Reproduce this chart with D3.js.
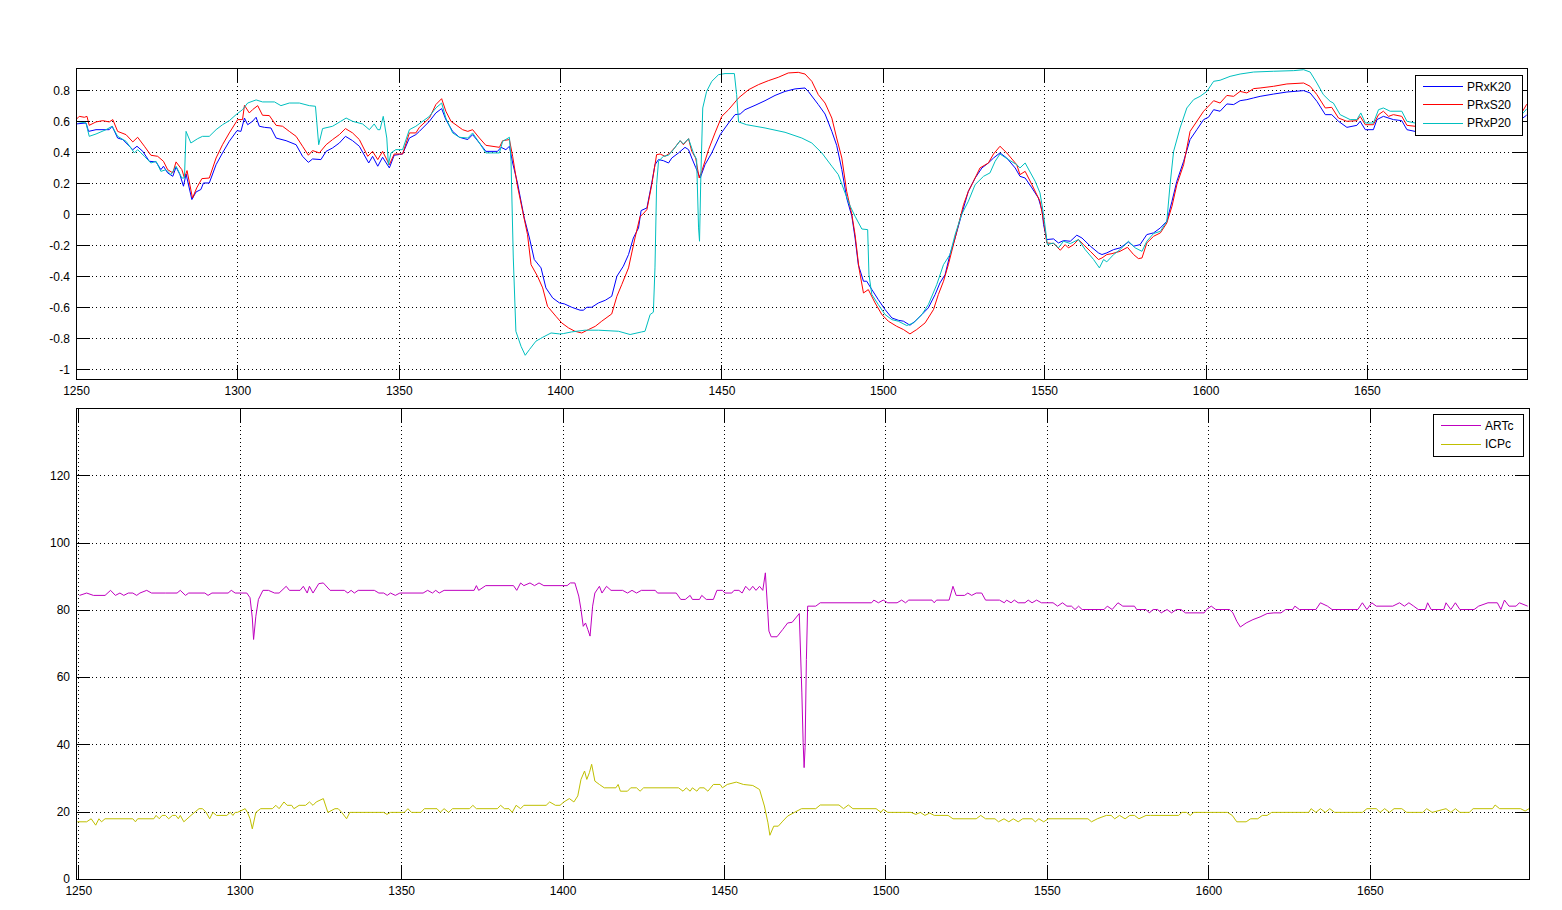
<!DOCTYPE html>
<html><head><meta charset="utf-8">
<script src="https://cdn.jsdelivr.net/npm/d3@7"></script>
<style>
html,body{margin:0;padding:0;background:#fff;}
text{font-family:"Liberation Sans",Arial,sans-serif;font-size:12px;fill:#000;}
</style></head>
<body>
<script>
// ---------- DATA ----------
const topSeriesNames = ["PRxK20", "PRxS20", "PRxP20"];
const bottomSeriesNames = ["ARTc", "ICPc"];
const topXTicks = [1250,1300,1350,1400,1450,1500,1550,1600,1650];
const topYTicks = [-1,-0.8,-0.6,-0.4,-0.2,0,0.2,0.4,0.6,0.8];
const bottomXTicks = [1250,1300,1350,1400,1450,1500,1550,1600,1650];
const bottomYTicks = [0,20,40,60,80,100,120];
const topXDomain = [1250, 1699.6];
const topYDomain = [-1.063, 0.944];
const bottomXDomain = [1249.3, 1699.3];
const bottomYDomain = [0, 140];

const prxK20 = [[1250,0.583],[1253.1,0.589],[1253.9,0.535],[1256.2,0.546],[1260.3,0.546],[1261.2,0.568],[1262.9,0.492],[1264.5,0.482],[1267.6,0.417],[1268.9,0.439],[1270.7,0.406],[1272.7,0.342],[1274.8,0.338],[1276.3,0.288],[1277.1,0.31],[1278.4,0.267],[1280.0,0.245],[1281.0,0.305],[1282.2,0.256],[1283.3,0.181],[1284.1,0.26],[1285.9,0.095],[1287.2,0.144],[1288.7,0.16],[1289.5,0.202],[1291.3,0.202],[1293.4,0.32],[1295.4,0.396],[1297.5,0.471],[1299.9,0.54],[1301.1,0.535],[1302.2,0.621],[1303.2,0.578],[1304.7,0.6],[1305.8,0.626],[1306.8,0.568],[1308.4,0.561],[1310.4,0.557],[1312.0,0.492],[1315.1,0.475],[1318.2,0.449],[1320.2,0.374],[1322.0,0.335],[1323.3,0.357],[1325.9,0.353],[1327.5,0.406],[1329.5,0.428],[1331.6,0.46],[1333.5,0.503],[1335.7,0.475],[1337.8,0.439],[1340.7,0.331],[1341.9,0.374],[1343.5,0.31],[1345.0,0.368],[1347.1,0.299],[1348.6,0.381],[1351.2,0.389],[1353.3,0.492],[1355.3,0.514],[1356.4,0.535],[1359.5,0.6],[1361.5,0.654],[1363.3,0.682],[1364.6,0.611],[1366.7,0.535],[1368.8,0.497],[1371.4,0.482],[1372.9,0.514],[1375.0,0.46],[1377.0,0.406],[1380.6,0.406],[1381.7,0.432],[1383.2,0.417],[1384.3,0.439],[1385.3,0.331],[1386.8,0.202],[1388.9,-0.024],[1390.5,-0.153],[1392.0,-0.292],[1394.1,-0.346],[1395.6,-0.475],[1397.7,-0.54],[1399.8,-0.572],[1401.3,-0.578],[1403.6,-0.6],[1406.2,-0.619],[1407.2,-0.619],[1408.3,-0.6],[1409.8,-0.6],[1411.9,-0.572],[1414.0,-0.555],[1416.0,-0.529],[1417.6,-0.4],[1419.6,-0.335],[1421.2,-0.26],[1422.7,-0.153],[1424.3,-0.088],[1425.1,0.024],[1426.9,0.041],[1428.4,0.202],[1429.4,0.32],[1430.5,0.353],[1432.0,0.346],[1433.6,0.331],[1434.6,0.363],[1436.7,0.396],[1438.7,0.432],[1439.8,0.417],[1440.8,0.363],[1442.0,0.303],[1443.4,0.234],[1444.9,0.32],[1447.0,0.396],[1449.6,0.514],[1452.2,0.589],[1454.2,0.643],[1455.8,0.647],[1457.3,0.675],[1460.4,0.703],[1463.5,0.733],[1466.6,0.767],[1469.7,0.793],[1472.8,0.809],[1475.9,0.815],[1476.9,0.793],[1480.0,0.708],[1482.1,0.647],[1484.2,0.535],[1485.7,0.445],[1487.3,0.288],[1488.8,0.105],[1490.4,-0.013],[1491.4,-0.153],[1492.4,-0.325],[1494.0,-0.432],[1495.0,-0.432],[1496.6,-0.486],[1498.6,-0.551],[1500.7,-0.615],[1502.8,-0.669],[1504.8,-0.684],[1506.4,-0.69],[1508.4,-0.716],[1510.0,-0.69],[1512.1,-0.647],[1514.1,-0.604],[1516.2,-0.518],[1517.7,-0.443],[1519.3,-0.389],[1520.8,-0.26],[1522.4,-0.153],[1524.4,-0.002],[1526.5,0.148],[1528.6,0.234],[1530.7,0.299],[1532.7,0.331],[1534.3,0.363],[1536.3,0.396],[1538.4,0.363],[1541.0,0.299],[1542.5,0.245],[1544.1,0.234],[1546.2,0.17],[1548.2,0.105],[1549.4,0.019],[1549.8,-0.067],[1550.8,-0.163],[1552.9,-0.159],[1554.4,-0.185],[1556.0,-0.17],[1558.1,-0.174],[1560.1,-0.135],[1561.7,-0.153],[1564.3,-0.206],[1566.8,-0.249],[1567.9,-0.26],[1569.4,-0.249],[1571.5,-0.228],[1573.5,-0.217],[1576.1,-0.179],[1577.7,-0.206],[1579.7,-0.196],[1581.8,-0.131],[1583.9,-0.12],[1586.0,-0.088],[1588.0,-0.045],[1589.6,0.084],[1591.1,0.213],[1593.2,0.342],[1595.2,0.482],[1597.3,0.546],[1599.4,0.611],[1600.9,0.626],[1602.5,0.675],[1604.5,0.665],[1606.6,0.712],[1608.7,0.708],[1610.7,0.733],[1612.8,0.74],[1614.9,0.751],[1616.9,0.761],[1621.1,0.776],[1625.2,0.789],[1630.4,0.798],[1632.4,0.783],[1634.5,0.729],[1637.1,0.643],[1639.1,0.643],[1641.2,0.6],[1643.8,0.561],[1646.9,0.574],[1647.9,0.6],[1649.5,0.546],[1652.0,0.546],[1653.1,0.611],[1655.1,0.632],[1658.2,0.611],[1660.8,0.604],[1662.4,0.546],[1664.9,0.535],[1670,0.56],[1680,0.6],[1690,0.6],[1697,0.6],[1699.5,0.64]];

const prxS20 = [[1250,0.611],[1251.0,0.632],[1252.6,0.626],[1253.4,0.632],[1254.1,0.574],[1256.2,0.596],[1258.3,0.604],[1260.3,0.596],[1261.4,0.611],[1262.9,0.535],[1265.5,0.514],[1267.6,0.467],[1269.1,0.497],[1271.2,0.439],[1273.2,0.381],[1275.3,0.374],[1277.1,0.342],[1278.4,0.288],[1280.0,0.267],[1281.0,0.338],[1282.8,0.288],[1283.6,0.234],[1284.4,0.282],[1286.1,0.105],[1287.4,0.17],[1289.0,0.23],[1291.3,0.234],[1293.4,0.363],[1295.4,0.449],[1297.5,0.525],[1300.1,0.611],[1301.6,0.611],[1302.2,0.703],[1303.7,0.654],[1304.7,0.675],[1306.3,0.701],[1307.8,0.639],[1309.9,0.637],[1312.0,0.574],[1314.0,0.568],[1316.1,0.535],[1318.2,0.503],[1320.2,0.439],[1322.0,0.381],[1323.3,0.411],[1325.4,0.396],[1327.5,0.449],[1329.5,0.482],[1331.6,0.514],[1333.5,0.553],[1335.7,0.525],[1337.8,0.482],[1340.4,0.374],[1341.9,0.406],[1343.5,0.353],[1345.0,0.406],[1347.1,0.32],[1348.6,0.389],[1351.2,0.389],[1353.3,0.525],[1355.3,0.525],[1356.4,0.561],[1359.5,0.621],[1361.5,0.708],[1363.3,0.746],[1364.6,0.665],[1366.2,0.6],[1369.8,0.546],[1371.4,0.535],[1372.9,0.546],[1375.0,0.492],[1377.0,0.445],[1381.2,0.432],[1382.2,0.475],[1384.3,0.482],[1385.3,0.374],[1386.8,0.181],[1388.4,0.019],[1389.9,-0.131],[1391.0,-0.325],[1393.0,-0.4],[1394.6,-0.475],[1396.1,-0.594],[1398.7,-0.658],[1400.5,-0.701],[1402.6,-0.733],[1404.6,-0.755],[1406.7,-0.766],[1408.8,-0.744],[1410.9,-0.723],[1412.9,-0.69],[1416.0,-0.643],[1417.6,-0.529],[1419.1,-0.454],[1421.2,-0.346],[1423.2,-0.153],[1424.8,-0.013],[1425.5,-0.002],[1426.9,0.03],[1428.4,0.191],[1429.9,0.385],[1431.0,0.389],[1432.5,0.374],[1434.1,0.396],[1435.6,0.432],[1437.2,0.475],[1438.2,0.449],[1439.8,0.488],[1440.8,0.406],[1442.0,0.363],[1443.1,0.234],[1443.9,0.277],[1446.0,0.417],[1448.0,0.525],[1450.1,0.632],[1452.2,0.675],[1455.3,0.751],[1458.4,0.804],[1461.5,0.837],[1464.5,0.862],[1467.6,0.884],[1470.7,0.912],[1473.8,0.916],[1475.9,0.905],[1478.0,0.858],[1480.0,0.772],[1482.1,0.718],[1484.2,0.621],[1485.7,0.492],[1487.3,0.363],[1488.8,0.148],[1490.4,-0.002],[1491.4,-0.131],[1492.6,-0.346],[1494.0,-0.508],[1495.5,-0.486],[1497.6,-0.572],[1499.7,-0.647],[1501.7,-0.69],[1504.3,-0.723],[1506.4,-0.744],[1508.4,-0.772],[1510.5,-0.744],[1513.1,-0.701],[1515.7,-0.615],[1517.2,-0.518],[1518.8,-0.432],[1520.3,-0.325],[1522.4,-0.153],[1525.0,0.062],[1526.5,0.148],[1528.1,0.213],[1530.1,0.299],[1532.7,0.331],[1534.3,0.389],[1536.3,0.439],[1538.4,0.396],[1541.5,0.32],[1542.5,0.256],[1544.1,0.277],[1546.2,0.191],[1548.7,0.084],[1550.0,-0.067],[1550.8,-0.185],[1552.9,-0.189],[1555.0,-0.232],[1556.5,-0.196],[1557.5,-0.217],[1559.1,-0.196],[1560.6,-0.163],[1562.2,-0.196],[1564.3,-0.239],[1566.8,-0.292],[1567.9,-0.282],[1569.4,-0.26],[1571.0,-0.254],[1573.5,-0.239],[1575.8,-0.213],[1577.7,-0.26],[1579.2,-0.286],[1580.3,-0.282],[1581.8,-0.185],[1583.9,-0.142],[1586.0,-0.12],[1588.0,-0.056],[1589.6,0.052],[1591.1,0.191],[1593.2,0.32],[1595.2,0.535],[1597.3,0.6],[1599.4,0.665],[1601.4,0.708],[1602.5,0.733],[1604.5,0.718],[1606.6,0.767],[1608.7,0.761],[1610.7,0.793],[1612.8,0.783],[1614.9,0.811],[1616.9,0.815],[1621.1,0.826],[1625.2,0.841],[1630.4,0.847],[1632.4,0.826],[1634.5,0.772],[1637.1,0.686],[1639.1,0.69],[1641.2,0.621],[1643.8,0.6],[1646.9,0.604],[1647.9,0.632],[1649.5,0.578],[1652.0,0.578],[1653.6,0.643],[1655.1,0.665],[1656.7,0.632],[1658.2,0.643],[1660.8,0.632],[1662.4,0.574],[1664.9,0.568],[1672,0.6],[1682,0.63],[1692,0.63],[1697,0.62],[1699.5,0.71]];

const prxP20 = [[1250,0.6],[1253.1,0.589],[1254.1,0.503],[1256.2,0.518],[1259.3,0.546],[1261.2,0.568],[1262.9,0.503],[1265.5,0.471],[1268.1,0.396],[1269.1,0.417],[1271.2,0.374],[1273.2,0.331],[1274.8,0.342],[1276.3,0.277],[1277.9,0.288],[1279.4,0.256],[1281.0,0.31],[1282.8,0.234],[1283.6,0.234],[1284.1,0.535],[1285.6,0.46],[1287.7,0.488],[1289.2,0.503],[1291.3,0.503],[1293.4,0.546],[1295.4,0.578],[1297.5,0.604],[1299.6,0.643],[1301.6,0.675],[1303.2,0.718],[1305.8,0.738],[1307.8,0.725],[1311.5,0.725],[1313.5,0.701],[1316.1,0.718],[1319.2,0.718],[1322.3,0.701],[1324.2,0.697],[1325.2,0.449],[1326.4,0.553],[1329.5,0.568],[1333.7,0.621],[1335.7,0.6],[1338.8,0.583],[1340.9,0.546],[1342.4,0.583],[1343.5,0.546],[1344.2,0.546],[1345.2,0.632],[1346.3,0.492],[1346.8,0.32],[1347.6,0.396],[1349.1,0.417],[1351.2,0.417],[1353.3,0.546],[1355.3,0.568],[1359.5,0.632],[1361.5,0.686],[1363.3,0.718],[1364.6,0.621],[1366.7,0.525],[1368.8,0.497],[1371.4,0.492],[1372.9,0.525],[1375.0,0.46],[1377.0,0.396],[1381.2,0.396],[1382.2,0.471],[1384.3,0.497],[1384.8,0.342],[1385.5,-0.282],[1386.3,-0.755],[1387.9,-0.852],[1389.2,-0.91],[1390.5,-0.873],[1392.5,-0.819],[1394.6,-0.794],[1397.2,-0.766],[1399.8,-0.772],[1401.0,-0.77],[1403.6,-0.759],[1407.7,-0.748],[1411.9,-0.748],[1418.1,-0.755],[1421.7,-0.776],[1425.3,-0.759],[1426.3,-0.755],[1427.9,-0.647],[1428.9,-0.632],[1429.4,-0.346],[1429.9,0.191],[1430.5,0.342],[1432.0,0.374],[1433.6,0.381],[1435.1,0.417],[1437.2,0.475],[1438.2,0.454],[1439.8,0.488],[1441.3,0.396],[1442.3,0.353],[1442.9,-0.088],[1443.2,-0.174],[1443.6,0.234],[1444.2,0.686],[1445.4,0.793],[1447.0,0.858],[1449.1,0.901],[1451.1,0.908],[1454.0,0.908],[1454.7,0.772],[1455.3,0.596],[1457.8,0.578],[1463.5,0.557],[1469.7,0.529],[1474.9,0.492],[1478.0,0.46],[1481.1,0.396],[1484.2,0.31],[1486.2,0.256],[1488.3,0.138],[1489.9,0.052],[1491.4,-0.013],[1493.5,-0.095],[1495.3,-0.099],[1495.7,-0.389],[1496.6,-0.518],[1498.6,-0.583],[1500.7,-0.647],[1502.8,-0.68],[1504.8,-0.69],[1507.4,-0.718],[1509.5,-0.701],[1512.1,-0.647],[1514.1,-0.583],[1516.7,-0.454],[1518.8,-0.325],[1520.8,-0.26],[1522.4,-0.131],[1524.4,-0.002],[1526.5,0.084],[1528.6,0.191],[1531.2,0.245],[1533.2,0.267],[1534.8,0.342],[1536.3,0.389],[1538.9,0.353],[1541.5,0.32],[1542.5,0.299],[1544.1,0.331],[1547.2,0.213],[1548.7,0.138],[1549.8,-0.002],[1551.0,-0.196],[1552.9,-0.185],[1554.4,-0.217],[1556.0,-0.174],[1558.1,-0.189],[1560.6,-0.163],[1562.7,-0.228],[1565.3,-0.292],[1567.1,-0.346],[1568.4,-0.292],[1569.4,-0.307],[1571.5,-0.26],[1573.5,-0.228],[1576.1,-0.174],[1578.2,-0.217],[1580.3,-0.239],[1581.8,-0.174],[1583.9,-0.124],[1586.0,-0.11],[1588.0,-0.045],[1589.0,0.191],[1590.1,0.406],[1592.1,0.557],[1594.2,0.686],[1596.3,0.74],[1598.3,0.761],[1600.4,0.793],[1602.5,0.858],[1604.5,0.865],[1607.6,0.89],[1610.7,0.905],[1614.9,0.918],[1621.1,0.923],[1627.3,0.927],[1630.4,0.933],[1632.4,0.918],[1634.5,0.847],[1636.5,0.772],[1638.6,0.729],[1639.6,0.718],[1641.7,0.643],[1644.8,0.611],[1646.9,0.611],[1648.1,0.654],[1649.5,0.589],[1652.0,0.589],[1653.6,0.675],[1655.1,0.686],[1657.2,0.665],[1660.8,0.665],[1662.4,0.6],[1664.9,0.589],[1672,0.6],[1682,0.64],[1692,0.64],[1697,0.62],[1699.5,0.68]];

const artc = [[1250.4,84.3],[1252.6,85.0],[1254.7,84.3],[1258.3,84.3],[1260.0,85.8],[1261.5,84.3],[1262.9,85.0],[1264.1,84.3],[1265.5,85.0],[1266.9,85.0],[1268.1,84.3],[1269.1,85.0],[1271.2,85.8],[1272.7,85.0],[1277.0,85.0],[1280.6,85.0],[1281.6,85.8],[1283.2,84.3],[1284.2,85.0],[1289.2,85.0],[1290.2,84.3],[1291.4,85.0],[1296.4,85.0],[1297.4,85.8],[1298.6,85.0],[1302.2,85.0],[1303.2,83.6],[1303.9,77.6],[1304.3,71.2],[1305.0,78.1],[1305.8,83.1],[1307.2,85.8],[1308.9,85.8],[1310.8,85.0],[1312.2,85.0],[1314.4,87.0],[1315.4,85.8],[1318.7,85.8],[1319.7,87.0],[1320.9,85.0],[1321.6,87.0],[1322.7,85.0],[1324.5,87.8],[1325.9,88.0],[1328.0,85.8],[1332.4,85.8],[1333.5,85.0],[1334.5,85.8],[1335.5,85.0],[1336.7,85.8],[1341.7,85.8],[1343.1,85.0],[1344.6,85.0],[1345.7,84.3],[1346.7,85.0],[1348.2,84.3],[1349.6,85.0],[1356.8,85.0],[1358.2,85.8],[1359.7,85.0],[1360.7,85.8],[1361.8,85.0],[1363.3,85.8],[1372.6,85.8],[1373.3,87.2],[1374.0,85.8],[1376.2,87.2],[1384.8,87.2],[1385.8,85.8],[1387.0,88.0],[1388.0,87.2],[1389.9,88.0],[1391.3,87.2],[1392.7,88.0],[1394.2,87.2],[1401.4,87.2],[1402.4,88.0],[1403.8,88.0],[1405.0,84.1],[1405.7,80.1],[1406.4,75.1],[1407.1,76.1],[1407.8,74.2],[1408.5,72.2],[1409.3,81.1],[1410.0,85.0],[1411.4,87.0],[1412.2,85.0],[1413.6,87.0],[1415.0,85.8],[1418.6,85.8],[1420.1,85.0],[1421.5,85.8],[1422.9,85.0],[1424.4,85.8],[1428.7,85.8],[1429.4,85.0],[1435.2,85.0],[1436.6,83.1],[1438.0,83.1],[1439.5,84.3],[1440.2,83.1],[1442.4,83.1],[1443.1,84.3],[1444.5,83.1],[1446.7,83.1],[1447.8,85.8],[1449.5,85.8],[1450.3,85.0],[1452.4,85.0],[1453.1,85.8],[1454.6,85.8],[1455.6,85.0],[1456.7,87.0],[1457.9,85.8],[1458.9,87.0],[1459.9,85.8],[1461.0,87.0],[1462.0,85.8],[1462.8,91.0],[1463.5,80.1],[1463.9,73.7],[1464.6,72.0],[1466.4,72.0],[1468.2,74.2],[1469.7,76.1],[1471.1,76.3],[1473.3,78.9],[1474.1,55.3],[1474.5,40.5],[1474.8,33.1],[1475.1,39.0],[1475.5,65.2],[1475.9,81.1],[1478.4,81.1],[1479.8,82.1],[1495.7,82.1],[1496.4,82.9],[1497.8,82.1],[1499.3,82.9],[1500.7,82.1],[1503.6,82.1],[1505.0,82.9],[1506.2,82.1],[1507.2,82.9],[1514.4,82.9],[1515.1,82.1],[1515.8,82.9],[1519.7,82.9],[1520.9,87.0],[1521.9,84.3],[1524.5,84.3],[1525.5,85.0],[1526.7,84.3],[1528.1,85.0],[1529.8,85.0],[1531.0,82.9],[1535.3,82.9],[1536.8,82.1],[1537.5,82.9],[1538.9,82.1],[1539.9,82.9],[1541.1,82.1],[1543.2,82.1],[1544.2,82.9],[1545.4,82.1],[1546.8,82.9],[1548.3,82.1],[1551.9,82.1],[1553.3,81.1],[1554.8,82.1],[1556.2,81.1],[1557.6,81.1],[1558.7,80.1],[1559.8,81.1],[1560.9,80.1],[1567.7,80.1],[1568.7,81.1],[1570.2,80.1],[1572.0,82.1],[1573.5,81.1],[1577.1,81.1],[1577.8,80.1],[1580.7,80.1],[1581.7,79.1],[1582.9,80.1],[1584.3,80.1],[1585.4,79.1],[1587.2,80.1],[1588.6,79.1],[1590.1,80.1],[1591.5,80.1],[1592.9,79.1],[1598.7,79.1],[1599.4,80.1],[1600.9,81.1],[1602.3,80.1],[1606.6,80.1],[1607.6,79.1],[1608.8,76.6],[1609.9,74.9],[1611.7,76.1],[1613.8,77.1],[1616.0,77.9],[1618.2,78.9],[1620.3,79.1],[1622.5,79.1],[1623.9,80.1],[1626.1,80.1],[1626.8,81.1],[1628.2,80.1],[1633.3,80.1],[1634.7,82.1],[1636.9,81.1],[1638.3,80.1],[1646.3,80.1],[1647.7,82.1],[1649.1,80.1],[1650.6,82.1],[1652.0,81.1],[1657.1,81.1],[1659.2,82.1],[1660.7,81.1],[1662.1,82.1],[1663.6,81.1],[1665.0,80.1],[1667.2,80.1],[1667.9,82.1],[1669.0,80.1],[1672.9,80.1],[1673.6,82.1],[1675.1,80.1],[1676.5,82.1],[1677.9,80.1],[1682.3,80.1],[1683.7,81.1],[1686.6,82.1],[1689.5,82.1],[1690.6,80.1],[1691.7,82.9],[1693.1,81.1],[1695.3,81.1],[1696.3,82.1],[1698.9,81.1]];

const icpc = [[1249.7,17.0],[1252.6,17.0],[1254.0,17.9],[1255.4,16.0],[1256.4,17.9],[1257.2,17.0],[1258.3,17.9],[1266.9,17.9],[1267.7,17.0],[1268.4,17.9],[1273.4,17.9],[1274.1,18.9],[1275.1,17.9],[1276.0,18.9],[1277.0,18.9],[1278.0,17.9],[1279.2,18.9],[1280.2,18.9],[1281.0,17.9],[1281.6,18.9],[1282.7,17.0],[1284.9,18.9],[1287.4,20.9],[1288.5,20.9],[1289.6,19.8],[1290.7,17.9],[1291.7,19.8],[1292.8,18.9],[1296.0,18.9],[1297.1,19.8],[1297.9,18.9],[1298.6,19.8],[1299.3,19.8],[1301.7,20.9],[1302.4,19.8],[1303.2,17.9],[1303.9,14.9],[1305.0,19.8],[1306.5,20.9],[1310.1,20.9],[1311.2,21.9],[1312.2,20.9],[1313.7,22.9],[1314.7,21.9],[1316.1,21.9],[1316.8,20.9],[1318.4,21.9],[1320.4,21.9],[1321.6,22.9],[1322.7,21.9],[1323.7,22.9],[1325.9,23.9],[1327.3,19.8],[1329.5,20.9],[1330.5,20.9],[1331.6,19.8],[1333.1,17.9],[1334.1,19.8],[1344.6,19.8],[1345.6,19.2],[1346.7,19.8],[1351.0,19.8],[1352.1,20.9],[1353.2,19.8],[1356.1,19.8],[1357.2,20.9],[1361.1,20.9],[1362.1,19.8],[1363.3,20.9],[1364.7,19.8],[1365.9,20.9],[1371.2,20.9],[1372.2,21.9],[1373.3,20.9],[1379.8,20.9],[1380.8,21.9],[1382.0,20.9],[1383.4,20.9],[1384.4,19.8],[1385.6,21.9],[1387.0,20.9],[1388.0,21.9],[1394.9,21.9],[1396.0,22.9],[1397.8,21.9],[1399.2,21.9],[1400.4,22.9],[1402.1,23.9],[1403.5,22.9],[1404.7,24.7],[1405.7,29.6],[1406.8,32.1],[1407.5,29.6],[1408.3,31.6],[1409.0,34.1],[1410.0,29.1],[1411.4,28.1],[1412.9,27.1],[1416.5,27.1],[1417.2,28.1],[1417.9,26.1],[1420.1,26.1],[1421.1,27.1],[1422.9,27.1],[1424.0,26.1],[1425.1,27.1],[1435.9,27.1],[1437.3,26.1],[1438.3,27.1],[1439.5,26.1],[1440.2,27.1],[1441.6,26.1],[1442.4,27.1],[1443.8,27.1],[1445.0,26.1],[1446.7,28.1],[1448.8,28.1],[1449.5,27.1],[1451.0,28.1],[1453.8,28.8],[1456.0,28.1],[1458.9,27.8],[1461.0,26.6],[1462.5,21.7],[1463.6,16.7],[1464.2,13.0],[1465.4,15.7],[1466.8,15.7],[1468.2,17.2],[1469.7,18.7],[1471.8,19.8],[1474.0,20.9],[1478.4,20.9],[1479.8,22.0],[1485.6,22.0],[1487.0,20.9],[1488.5,22.0],[1489.9,20.9],[1497.1,20.9],[1498.6,19.8],[1499.3,20.7],[1500.7,19.8],[1507.9,19.8],[1509.4,19.2],[1510.8,19.8],[1512.2,18.9],[1513.7,19.6],[1515.1,18.9],[1519.4,18.9],[1520.9,17.9],[1528.1,17.9],[1529.5,18.9],[1531.0,17.9],[1533.9,17.9],[1535.0,17.0],[1536.7,17.9],[1538.2,17.0],[1539.6,17.9],[1541.1,17.0],[1542.5,17.9],[1545.4,17.9],[1546.4,17.0],[1547.5,17.9],[1549.0,17.0],[1550.4,17.9],[1562.7,17.9],[1563.8,17.0],[1565.6,17.9],[1568.4,18.9],[1569.9,18.9],[1571.0,17.9],[1572.5,18.9],[1574.2,17.9],[1575.7,18.9],[1577.1,18.9],[1578.5,17.9],[1580.7,18.9],[1582.1,18.9],[1590.8,18.9],[1591.8,19.8],[1593.2,19.8],[1594.4,18.9],[1595.5,19.8],[1605.9,19.8],[1607.4,18.9],[1608.8,17.0],[1611.7,17.0],[1613.1,17.9],[1615.3,17.9],[1616.7,18.9],[1618.2,18.9],[1619.6,19.8],[1631.1,19.8],[1631.8,20.9],[1633.3,19.8],[1634.7,20.9],[1636.2,19.8],[1637.6,20.9],[1639.1,19.8],[1647.7,19.8],[1649.1,20.9],[1652.0,20.9],[1653.2,19.8],[1654.6,20.9],[1656.1,19.8],[1657.5,20.9],[1659.9,20.9],[1661.4,19.8],[1666.4,19.8],[1667.6,20.9],[1669.3,19.8],[1673.6,20.9],[1675.1,19.8],[1676.5,20.9],[1677.9,19.8],[1680.8,19.8],[1682.0,20.9],[1688.0,20.9],[1688.8,22.0],[1690.2,20.9],[1696.7,20.9],[1698.1,20.2],[1699.3,20.9]];

// ---------- STYLE / LAYOUT ----------
const colors = {PRxK20:"#0000ff", PRxS20:"#ff0000", PRxP20:"#00bfbf", ARTc:"#bf00bf", ICPc:"#bfbf00"};
const W = 1562, H = 910, TICK = 14;

const svg = d3.select("body").append("svg").attr("width", W).attr("height", H);
svg.append("rect").attr("width", W).attr("height", H).attr("fill", "#fff");

function fmt(d){ return String(+(+d).toFixed(1)); }

function panel(cfg){
  const {x0, x1, y0, y1, xDomain, yDomain, xTicks, yTicks, series, legend, id} = cfg;
  const x = d3.scaleLinear().domain(xDomain).range([x0, x1]);
  const y = d3.scaleLinear().domain(yDomain).range([y1, y0]);
  const g = svg.append("g");
  const w = x1 - x0, h = y1 - y0;

  g.append("clipPath").attr("id", "clip" + id).append("rect")
    .attr("x", x0).attr("y", y0).attr("width", w).attr("height", h);

  // grid
  const gxg = g.append("g").attr("transform", `translate(0,${y1})`)
    .call(d3.axisBottom(x).tickValues(xTicks).tickSize(-h).tickFormat(""));
  gxg.select(".domain").remove();
  gxg.selectAll("line").attr("stroke", "#000").attr("stroke-dasharray", "1,3").attr("shape-rendering", "crispEdges");
  const gyg = g.append("g").attr("transform", `translate(${x0},0)`)
    .call(d3.axisLeft(y).tickValues(yTicks).tickSize(-w).tickFormat(""));
  gyg.select(".domain").remove();
  gyg.selectAll("line").attr("stroke", "#000").attr("stroke-dasharray", "1,3").attr("shape-rendering", "crispEdges");

  // data lines
  const line = d3.line().x(d => x(d[0])).y(d => y(d[1]));
  const lg = g.append("g").attr("clip-path", `url(#clip${id})`);
  series.forEach(s => {
    lg.append("path").datum(s.data).attr("d", line)
      .attr("fill", "none").attr("stroke", colors[s.name]).attr("stroke-width", 1)
      .attr("stroke-linejoin", "round");
  });

  // axes with inward ticks
  const ax = [
    [d3.axisBottom(x).tickValues(xTicks).tickSizeInner(-TICK).tickSizeOuter(0).tickPadding(7).tickFormat(fmt), `translate(0,${y1})`],
    [d3.axisTop(x).tickValues(xTicks).tickSizeInner(-TICK).tickSizeOuter(0).tickFormat(""), `translate(0,${y0})`],
    [d3.axisLeft(y).tickValues(yTicks).tickSizeInner(-TICK).tickSizeOuter(0).tickPadding(6).tickFormat(fmt), `translate(${x0},0)`],
    [d3.axisRight(y).tickValues(yTicks).tickSizeInner(-TICK).tickSizeOuter(0).tickFormat(""), `translate(${x1},0)`]
  ];
  ax.forEach(([a, tr]) => {
    const ag = g.append("g").attr("transform", tr).call(a);
    ag.select(".domain").remove();
    ag.selectAll("line").attr("stroke", "#000").attr("shape-rendering", "crispEdges");
    ag.selectAll("text").attr("fill", "#000").style("font-family", "'Liberation Sans',Arial,sans-serif").style("font-size", "12px");
  });
  g.append("rect").attr("x", x0).attr("y", y0).attr("width", w).attr("height", h)
    .attr("fill", "none").attr("stroke", "#000").attr("stroke-width", 1).attr("shape-rendering", "crispEdges");

  // legend
  const L = legend;
  const leg = g.append("g");
  leg.append("rect").attr("x", L.x).attr("y", L.y).attr("width", L.w).attr("height", L.h)
    .attr("fill", "#fff").attr("stroke", "#000").attr("shape-rendering", "crispEdges");
  series.forEach((s, i) => {
    const yy = L.y + L.first + i * L.step;
    leg.append("line").attr("x1", L.x + 8).attr("x2", L.x + 48).attr("y1", yy).attr("y2", yy)
      .attr("stroke", colors[s.name]).attr("shape-rendering", "crispEdges");
    leg.append("text").attr("x", L.x + 52).attr("y", yy).attr("dy", "0.35em").text(s.name);
  });
}

panel({id: "top", x0: 76, x1: 1527, y0: 68, y1: 379,
  xDomain: topXDomain, yDomain: topYDomain, xTicks: topXTicks, yTicks: topYTicks,
  series: [{name: topSeriesNames[0], data: prxK20}, {name: topSeriesNames[1], data: prxS20}, {name: topSeriesNames[2], data: prxP20}],
  legend: {x: 1415, y: 75, w: 107, h: 60, first: 11.5, step: 18.3}});

panel({id: "bot", x0: 76, x1: 1529, y0: 408, y1: 879,
  xDomain: bottomXDomain, yDomain: bottomYDomain, xTicks: bottomXTicks, yTicks: bottomYTicks,
  series: [{name: bottomSeriesNames[0], data: artc}, {name: bottomSeriesNames[1], data: icpc}],
  legend: {x: 1433, y: 414, w: 90, h: 42, first: 11.5, step: 18.7}});
</script>
</body></html>
